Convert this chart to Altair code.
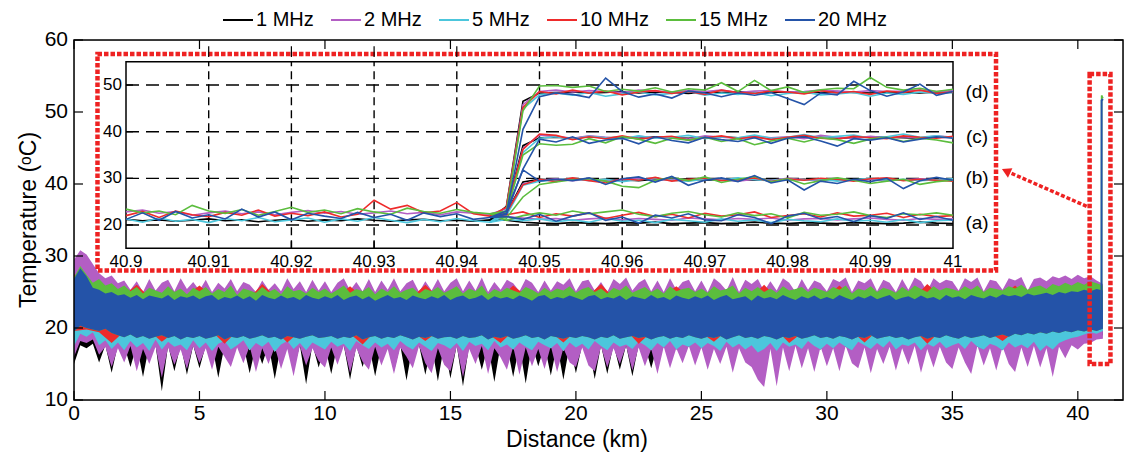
import altair as alt
import numpy as np
import pandas as pd

SERIES = ["1 MHz", "2 MHz", "5 MHz", "10 MHz", "15 MHz", "20 MHz"]
COLORS = ["#000000", "#b35ec4", "#4cc6dc", "#ee2b2b", "#5bbd3d", "#2453a8"]

# ---------------- main trace: noisy envelopes sampled every 0.25 km (0 .. 41 km) ----------------
K_LO = [15.0, 17.6, 17.2, 17.8, 15.2, 17.6, 13.8, 17.7, 17.6, 14.6,
        17.6, 13.2, 17.7, 17.6, 11.2, 17.6, 14.0, 17.7, 13.5, 17.6,
        14.4, 17.6, 17.7, 13.1, 17.6, 14.9, 17.7, 17.6, 13.7, 17.6,
        15.0, 17.7, 12.9, 17.6, 17.7, 14.2, 17.6, 12.2, 17.7, 14.5,
        17.6, 13.6, 17.7, 17.6, 12.8, 17.6, 14.6, 17.7, 13.3, 17.6,
        17.7, 14.0, 17.6, 12.7, 17.7, 17.6, 13.5, 17.6, 12.6, 17.7,
        13.0, 17.6, 11.9, 17.7, 17.6, 14.2, 17.6, 12.5, 17.7, 17.6,
        13.2, 17.6, 12.3, 17.7, 14.7, 17.6, 13.4, 17.7, 12.8, 17.6,
        13.7, 17.7, 17.6, 12.9, 17.6, 13.6, 17.7, 14.2, 17.6, 13.3,
        17.7, 17.6, 14.4, 17.6, 17.7, 15.3, 17.6, 17.7, 17.6, 17.7,
        17.6, 17.7, 17.6, 17.7, 17.6, 17.7, 17.6, 17.7, 17.6, 17.7,
        17.6, 17.7, 17.6, 17.7, 17.6, 17.7, 17.6, 17.7, 17.6, 17.7,
        17.6, 17.7, 17.6, 17.7, 17.6, 17.7, 17.6, 17.7, 17.6, 17.7,
        17.6, 17.7, 17.6, 17.7, 17.6, 17.7, 17.6, 17.7, 17.6, 17.7,
        17.6, 17.7, 17.6, 17.7, 17.6, 17.7, 17.6, 17.7, 17.6, 17.7,
        17.6, 17.7, 17.6, 17.7, 17.6, 17.7, 17.6, 17.7, 17.8, 17.9,
        18.0, 18.2, 18.4, 18.6, 19.0]
P_LO = [16.0, 18.2, 17.9, 18.4, 16.3, 17.4, 14.6, 17.2, 15.2, 17.5,
        14.0, 17.1, 15.0, 17.4, 13.1, 17.3, 14.9, 17.0, 14.3, 17.5,
        15.1, 17.2, 14.2, 17.4, 16.0, 14.6, 17.3, 15.1, 17.5, 13.9,
        17.2, 15.0, 17.4, 14.3, 17.1, 13.3, 17.5, 14.8, 17.2, 15.4,
        14.5, 17.3, 14.9, 17.5, 13.8, 17.2, 15.3, 14.2, 17.4, 14.8,
        17.1, 13.6, 17.3, 16.0, 14.4, 17.5, 15.1, 13.7, 17.2, 14.9,
        14.0, 17.4, 13.2, 17.1, 15.0, 17.5, 13.6, 17.2, 15.9, 14.2,
        17.4, 13.5, 17.3, 14.7, 17.1, 14.3, 17.5, 13.9, 17.2, 15.2,
        14.6, 17.3, 14.8, 14.0, 17.4, 14.5, 17.2, 15.0, 17.5, 14.1,
        17.3, 14.7, 17.1, 13.6, 17.4, 14.4, 17.2, 15.1, 17.5, 14.8,
        17.3, 14.2, 17.1, 15.0, 17.4, 13.8, 17.2, 15.2, 14.6, 12.8,
        11.8, 17.1, 11.9, 17.3, 14.0, 17.5, 14.4, 17.2, 13.9, 17.4,
        14.7, 17.2, 14.0, 17.5, 15.1, 14.4, 17.3, 13.7, 17.1, 15.0,
        17.4, 14.1, 17.2, 14.9, 17.5, 13.8, 17.1, 14.5, 17.4, 15.2,
        14.3, 17.3, 15.2, 13.6, 17.5, 14.8, 17.2, 14.1, 17.4, 15.0,
        13.9, 17.3, 14.6, 17.5, 14.5, 17.2, 13.2, 17.4, 15.8, 17.6,
        17.0, 17.8, 17.9, 18.4, 18.5]
P_HI = [29.5, 30.8, 30.2, 28.9, 27.6, 26.9, 27.3, 26.2, 26.6, 25.3,
        26.5, 25.0, 26.8, 25.2, 26.3, 26.7, 25.1, 26.9, 25.4, 26.4,
        25.2, 26.7, 25.0, 26.3, 25.5, 26.8, 25.1, 26.4, 26.0, 25.0,
        26.6, 25.3, 26.2, 25.1, 26.9, 25.4, 26.5, 25.0, 26.7, 25.2,
        26.5, 25.0, 26.3, 26.9, 25.2, 26.4, 25.1, 26.8, 25.0, 26.6,
        25.3, 26.9, 25.1, 26.2, 26.7, 25.0, 26.5, 25.2, 26.8, 25.1,
        26.3, 26.9, 25.1, 26.6, 25.2, 27.0, 25.0, 26.4, 25.3, 26.7,
        26.2, 25.1, 26.8, 26.3, 25.0, 26.6, 25.2, 26.5, 26.0, 26.9,
        25.1, 26.5, 26.7, 25.2, 26.4, 25.0, 26.8, 26.1, 27.0, 25.2,
        26.3, 26.8, 25.1, 26.6, 25.0, 26.9, 25.3, 26.4, 26.7, 25.1,
        26.6, 25.0, 26.9, 26.2, 25.2, 27.1, 25.0, 26.7, 26.1, 26.8,
        25.1, 26.5, 25.2, 26.9, 26.3, 25.0, 26.8, 25.3, 26.6, 26.2,
        25.1, 26.8, 26.4, 27.0, 25.0, 26.6, 26.2, 26.9, 25.1, 26.7,
        26.3, 25.0, 26.8, 25.3, 27.0, 26.5, 25.1, 26.9, 26.2, 26.7,
        26.5, 25.2, 26.9, 26.4, 27.0, 25.1, 26.7, 26.5, 25.3, 26.9,
        26.6, 27.1, 25.2, 26.8, 27.0, 26.5, 27.2, 26.9, 27.3, 26.8,
        27.4, 26.9, 27.2, 26.6, 26.1]
C_LO = [17.5, 19.2, 18.8, 19.4, 17.6, 18.3, 17.1, 18.0, 16.9, 18.2,
        17.3, 17.9, 16.8, 18.4, 17.0, 18.1, 17.4, 17.7, 16.9, 18.3,
        17.2, 18.0, 16.8, 17.8, 18.2, 17.0, 17.6, 18.3, 16.9, 17.9,
        17.4, 18.1, 16.7, 17.7, 18.2, 17.1, 17.9, 16.9, 18.0, 17.5,
        17.0, 18.1, 17.4, 17.8, 16.8, 18.2, 17.6, 17.1, 18.0, 17.3,
        17.8, 16.9, 18.2, 17.5, 17.0, 18.0, 17.4, 16.8, 17.9, 17.6,
        17.1, 17.9, 16.8, 18.1, 17.5, 17.8, 16.9, 18.2, 17.3, 17.7,
        17.0, 18.0, 17.4, 16.9, 18.1, 17.6, 17.2, 17.9, 16.8, 18.0,
        17.3, 17.8, 17.0, 18.2, 17.5, 16.9, 18.0, 17.4, 17.7, 17.1,
        18.1, 17.6, 16.9, 17.9, 17.3, 18.2, 17.0, 17.7, 17.4, 18.0,
        17.2, 17.9, 17.5, 16.8, 18.1, 17.3, 17.8, 17.0, 17.6, 16.6,
        17.1, 17.9, 16.8, 18.0, 17.4, 17.7, 17.1, 18.2, 17.5, 17.0,
        17.8, 17.2, 18.0, 17.4, 16.9, 18.1, 17.6, 17.1, 17.9, 17.3,
        18.2, 17.0, 17.7, 17.5, 18.0, 16.9, 17.8, 17.4, 18.1, 17.2,
        17.6, 17.9, 17.1, 18.2, 17.4, 17.0, 17.8, 17.5, 16.9, 18.0,
        17.3, 17.7, 17.2, 18.1, 16.8, 17.6, 17.0, 17.9, 18.3, 18.6,
        18.8, 19.1, 19.4, 19.2, 19.6]
G_HI = [27.0, 28.6, 27.4, 26.3, 26.8, 25.9, 26.2, 25.4, 25.9, 25.1,
        25.7, 24.8, 25.6, 25.2, 24.9, 25.8, 25.0, 25.5, 24.7, 25.6,
        25.1, 25.7, 24.8, 25.4, 25.0, 25.9, 24.6, 25.5, 25.2, 24.9,
        25.7, 25.0, 25.4, 24.7, 25.8, 25.1, 25.3, 24.8, 25.6, 25.0,
        25.5, 24.8, 25.3, 25.9, 24.9, 25.4, 25.1, 25.7, 24.7, 25.5,
        25.0, 25.8, 24.9, 25.3, 25.6, 24.8, 25.4, 25.1, 25.7, 24.9,
        25.3, 25.8, 24.8, 25.5, 25.1, 25.9, 24.7, 25.4, 25.0, 25.6,
        25.2, 24.9, 25.7, 25.3, 24.8, 25.6, 25.0, 25.5, 25.2, 25.8,
        24.9, 25.4, 25.7, 25.0, 25.5, 24.8, 25.6, 25.2, 25.9, 24.9,
        25.3, 25.7, 25.0, 25.5, 24.8, 25.8, 25.1, 25.4, 25.6, 25.0,
        25.5, 24.9, 25.8, 25.2, 25.4, 25.9, 24.8, 25.6, 25.1, 25.7,
        25.0, 25.5, 24.9, 25.8, 25.2, 25.4, 25.7, 25.0, 25.6, 25.3,
        25.0, 25.7, 25.3, 25.9, 24.8, 25.5, 25.2, 25.8, 25.0, 25.6,
        25.3, 24.9, 25.7, 25.1, 25.9, 25.4, 25.0, 25.8, 25.2, 25.6,
        25.4, 25.1, 25.8, 25.3, 25.9, 25.0, 25.6, 25.4, 25.2, 25.8,
        25.5, 26.0, 25.3, 25.7, 25.9, 25.4, 26.1, 25.8, 26.3, 25.9,
        26.4, 26.0, 26.5, 26.2, 25.9]
B_HI = [26.8, 28.3, 27.2, 25.6, 25.3, 24.8, 25.0, 24.5, 24.7, 24.2,
        24.6, 24.0, 24.5, 24.3, 24.1, 24.6, 23.9, 24.4, 24.2, 24.5,
        24.0, 24.4, 24.6, 23.9, 24.3, 24.1, 24.5, 24.0, 24.4, 23.8,
        24.6, 24.2, 24.0, 24.5, 24.1, 24.3, 23.9, 24.6, 24.2, 24.0,
        24.4, 24.1, 24.6, 23.9, 24.3, 24.5, 24.0, 24.4, 23.8, 24.2,
        24.6, 24.1, 24.3, 23.9, 24.5, 24.2, 24.0, 24.4, 24.1, 24.6,
        23.9, 24.3, 24.5, 24.0, 24.2, 24.6, 23.9, 24.4, 24.1, 24.3,
        24.0, 24.5, 24.2, 23.8, 24.4, 24.6, 24.0, 24.3, 24.1, 24.5,
        24.2, 23.9, 24.4, 24.6, 24.0, 24.3, 24.1, 24.5, 23.9, 24.4,
        24.2, 24.0, 24.6, 24.1, 24.3, 23.9, 24.5, 24.2, 24.0, 24.4,
        24.1, 24.5, 23.9, 24.3, 24.6, 24.0, 24.2, 24.4, 23.8, 24.5,
        24.1, 24.3, 24.0, 24.6, 24.2, 23.9, 24.4, 24.1, 24.5, 24.0,
        24.3, 24.0, 24.6, 24.2, 23.9, 24.4, 24.1, 24.5, 24.0, 24.3,
        24.6, 23.9, 24.2, 24.4, 24.0, 24.5, 24.1, 24.3, 23.9, 24.6,
        24.2, 24.4, 24.0, 24.6, 24.3, 24.1, 24.5, 24.2, 24.7, 24.4,
        24.6, 24.3, 24.8, 24.5, 24.7, 24.9, 24.6, 25.0, 24.8, 25.1,
        25.0, 25.3, 25.1, 25.4, 25.2]
B_LO = [19.5, 20.3, 20.0, 19.8, 19.6, 19.9, 19.3, 19.0, 18.7, 19.1,
        18.6, 18.9, 18.5, 18.8, 19.0, 18.6, 18.9, 18.4, 18.8, 18.6,
        18.9, 18.5, 18.7, 19.0, 18.4, 18.8, 18.6, 18.9, 18.5, 18.7,
        19.0, 18.6, 18.8, 18.4, 18.9, 18.7, 18.5, 18.8, 19.0, 18.6,
        18.7, 18.9, 18.5, 18.8, 18.6, 19.0, 18.4, 18.7, 18.9, 18.5,
        18.8, 18.6, 19.0, 18.7, 18.4, 18.8, 18.6, 18.9, 18.5, 18.7,
        18.8, 18.5, 18.9, 18.6, 18.7, 19.0, 18.4, 18.8, 18.6, 18.9,
        18.5, 18.7, 19.0, 18.6, 18.8, 18.4, 18.9, 18.7, 18.5, 18.8,
        18.6, 18.9, 18.7, 18.4, 18.8, 18.6, 19.0, 18.5, 18.7, 18.9,
        18.6, 18.8, 18.4, 18.7, 18.9, 18.5, 18.8, 18.6, 19.0, 18.7,
        18.5, 18.8, 18.6, 18.9, 18.4, 18.7, 19.0, 18.6, 18.8, 18.5,
        18.9, 18.7, 18.4, 18.8, 18.6, 18.9, 18.5, 18.7, 19.0, 18.6,
        18.8, 18.5, 18.9, 18.7, 18.4, 18.8, 18.6, 19.0, 18.5, 18.7,
        18.9, 18.6, 18.8, 18.4, 18.7, 18.9, 18.5, 18.8, 18.6, 19.0,
        18.7, 18.5, 18.9, 18.6, 18.8, 19.0, 18.6, 18.9, 19.1, 18.8,
        19.2, 19.0, 19.3, 19.1, 19.4, 19.2, 19.5, 19.3, 19.6, 19.4,
        19.7, 19.5, 19.8, 19.6, 19.9]
# red (10 MHz) envelope sampled every 0.5 km
R_LO = [19.6, 19.8, 19.4, 17.9, 19.5, 19.3, 19.6, 18.1, 19.4, 19.7,
        19.3, 19.5, 17.8, 19.6, 19.4, 19.2, 19.7, 18.0, 19.5, 19.3,
        19.6, 19.4, 19.2, 17.7, 19.5, 19.3, 19.6, 19.4, 18.2, 19.5,
        19.3, 19.7, 19.4, 19.2, 17.9, 19.6, 19.3, 19.5, 19.4, 18.0,
        19.6, 19.2, 19.5, 19.3, 19.7, 17.8, 19.4, 19.6, 19.2, 19.5,
        19.3, 18.1, 19.6, 19.4, 19.2, 19.5, 19.7, 17.9, 19.3, 19.6,
        19.4, 19.2, 19.5, 18.0, 19.6, 19.3, 19.4, 19.7, 17.8, 19.5,
        19.2, 19.6, 19.4, 19.3, 18.2, 19.5, 19.7, 19.4, 19.6, 19.8,
        20.0, 20.1, 20.2]
R_HI = [27.5, 26.0, 25.2, 24.4, 24.6, 26.0, 24.3, 24.5, 24.2, 24.6,
        25.9, 24.4, 24.3, 24.5, 24.2, 26.1, 24.4, 24.6, 24.3, 24.5,
        24.2, 24.4, 25.8, 24.3, 24.5, 24.6, 24.2, 24.4, 26.0, 24.3,
        24.5, 24.2, 24.6, 24.4, 24.3, 25.9, 24.5, 24.2, 24.4, 24.6,
        24.3, 24.5, 26.1, 24.2, 24.4, 24.6, 24.3, 24.5, 25.8, 24.4,
        24.2, 24.6, 24.3, 24.5, 24.4, 26.0, 24.2, 24.5, 24.3, 24.6,
        24.4, 25.9, 24.3, 24.5, 24.2, 24.6, 24.4, 24.3, 26.1, 24.5,
        24.2, 24.4, 24.6, 24.3, 24.5, 25.9, 24.4, 24.7, 24.9, 25.2,
        25.5, 25.8, 25.4]
# heated section at the fibre end (main view)
STEP_X = [40.944, 40.948, 41.0]
STEP_15 = [22.5, 52.3, 51.9]
STEP_20 = [21.0, 51.6, 51.8]

# ---------------- inset: 40.9 .. 41 km, every 2 m ----------------
PRE_01 = [21.2, 20.9, 21.1, 20.8, 21.0, 21.3, 20.9, 21.1, 20.7, 21.0,
          21.2, 20.8, 21.1, 20.9, 21.3, 21.0, 20.8, 21.1, 21.2, 20.9, 21.0, 20.8, 21.1]
PRE_02 = [22.8, 23.2, 22.5, 22.9, 22.1, 22.6, 23.0, 22.4, 22.8, 22.2,
          22.7, 23.1, 22.5, 22.9, 22.3, 22.6, 23.0, 22.4, 22.7, 22.2, 22.8, 22.5, 22.3]
PRE_05 = [21.3, 20.6, 21.5, 20.8, 21.2, 20.5, 21.4, 20.9, 21.6, 20.7,
          21.1, 21.5, 20.6, 21.3, 20.8, 21.6, 21.0, 20.5, 21.2, 20.7, 21.4, 20.9, 20.6]
PRE_10 = [22.0, 22.9, 21.6, 23.0, 22.2, 21.8, 22.7, 22.1, 23.2, 21.9,
          22.5, 22.0, 22.8, 21.7, 22.3, 25.3, 23.4, 24.2, 22.6, 23.0, 24.8, 22.4, 21.9]
PRE_15 = [23.4, 22.6, 23.0, 22.2, 24.2, 23.0, 22.5, 23.3, 22.1, 22.9,
          23.8, 22.7, 23.2, 22.4, 23.5, 22.8, 22.3, 23.6, 22.9, 22.5, 23.3, 22.7, 22.4]
PRE_20 = [21.2, 22.6, 21.0, 22.9, 21.5, 22.2, 21.3, 23.4, 21.7, 22.8,
          21.1, 22.5, 21.9, 21.4, 22.7, 21.6, 22.3, 21.0, 22.6, 21.8, 22.4, 21.2, 21.6]

D_01 = [24.0, 46.5, 48.3, 48.4, 48.5, 48.3, 48.4, 48.6, 48.3, 48.5, 48.4, 48.2, 48.5, 48.4,
        48.6, 48.3, 48.4, 48.5, 48.3, 48.4, 48.6, 48.4, 48.3, 48.5, 48.4, 48.3, 48.5, 48.4]
D_02 = [23.5, 45.8, 48.6, 48.9, 48.5, 48.8, 48.6, 48.4, 48.9, 48.7, 48.5, 48.8, 48.6, 48.9,
        48.4, 48.7, 48.8, 48.5, 48.6, 48.9, 48.7, 48.5, 48.8, 48.6, 48.7, 48.9, 48.6, 48.8]
D_05 = [23.2, 44.9, 47.9, 48.3, 47.8, 48.4, 47.6, 48.1, 48.5, 47.9, 48.2, 48.6, 47.8, 48.3,
        48.0, 48.4, 47.7, 48.2, 48.5, 47.9, 48.1, 48.4, 47.6, 48.3, 48.0, 48.5, 48.2, 48.4]
D_10 = [23.8, 45.2, 48.6, 48.1, 48.9, 48.3, 48.7, 47.9, 48.5, 48.8, 48.2, 48.6, 48.0, 48.9,
        48.4, 48.2, 48.7, 48.5, 48.1, 48.8, 48.3, 48.6, 48.0, 48.7, 48.4, 48.9, 48.2, 48.5]
D_15 = [23.0, 44.5, 49.8, 49.9, 49.5, 49.8, 48.6, 49.1, 48.7, 49.4, 48.5, 49.2, 48.9, 50.5,
        48.6, 51.0, 48.8, 49.6, 48.4, 49.0, 49.3, 49.2, 51.6, 49.5, 48.9, 49.3, 48.6, 49.1]
D_20 = [22.5, 40.5, 47.5, 48.3, 48.0, 47.3, 51.5, 48.6, 47.4, 48.1, 47.2, 48.7, 48.3, 47.5,
        48.3, 47.8, 48.4, 47.1, 45.8, 48.3, 47.9, 50.8, 48.8, 47.6, 48.5, 50.2, 47.8, 48.6]
C_01 = [23.0, 37.0, 38.7, 38.8, 38.6, 38.9, 38.7, 38.8, 38.6, 38.9, 38.7, 38.6, 38.8, 38.9,
        38.7, 38.8, 38.6, 38.7, 38.9, 38.8, 38.6, 38.7, 38.9, 38.8, 38.7, 38.6, 38.8, 38.9]
C_02 = [22.8, 36.4, 39.3, 39.0, 38.6, 39.1, 38.8, 38.5, 39.0, 38.7, 38.9, 38.4, 39.1, 38.8,
        38.6, 39.0, 38.7, 38.9, 38.5, 39.2, 38.8, 38.6, 39.0, 38.7, 38.9, 38.6, 39.1, 38.8]
C_05 = [22.6, 35.5, 38.6, 38.9, 38.4, 39.0, 38.7, 38.5, 39.1, 38.6, 38.8, 39.2, 38.5, 38.9,
        38.7, 39.3, 38.6, 38.8, 39.4, 38.7, 39.0, 39.3, 38.6, 38.9, 39.5, 38.8, 39.1, 38.7]
C_10 = [22.9, 36.2, 39.5, 39.2, 38.3, 38.9, 38.5, 39.1, 38.4, 38.8, 39.0, 38.2, 38.7, 39.1,
        38.5, 38.9, 38.3, 38.8, 39.2, 38.6, 38.4, 39.0, 38.7, 38.5, 39.1, 38.8, 38.6, 39.0]
C_15 = [22.7, 35.0, 37.4, 37.1, 37.3, 38.5, 37.6, 38.9, 38.4, 37.5, 38.6, 38.2, 38.8, 37.9,
        38.5, 37.2, 38.0, 38.6, 37.8, 38.7, 38.3, 37.5, 38.4, 38.8, 37.9, 38.6, 38.2, 37.6]
C_20 = [22.3, 32.0, 38.4, 37.8, 38.9, 37.5, 38.2, 38.6, 37.4, 38.9, 38.1, 37.6, 38.8, 38.3,
        37.9, 38.7, 37.5, 38.6, 38.9, 38.0, 36.9, 38.5, 38.2, 38.7, 37.8, 38.4, 38.9, 38.6]
B_01 = [22.5, 29.2, 29.8, 29.7, 29.9, 29.6, 29.8, 29.7, 29.5, 29.8, 29.7, 29.9, 29.6, 29.7,
        29.8, 29.6, 29.9, 29.7, 29.8, 29.6, 29.7, 29.9, 29.8, 29.6, 29.7, 29.8, 29.7, 29.9]
B_02 = [22.4, 28.8, 29.6, 29.9, 29.5, 29.8, 29.4, 29.7, 30.0, 29.6, 29.8, 29.5, 29.9, 29.7,
        29.4, 29.8, 29.6, 30.0, 29.7, 29.5, 29.9, 29.6, 29.8, 29.5, 29.7, 29.9, 29.6, 29.8]
B_05 = [22.0, 28.5, 29.4, 29.7, 29.9, 29.5, 29.8, 29.3, 29.7, 30.0, 29.6, 29.4, 29.8, 29.6,
        30.1, 29.7, 29.5, 29.9, 29.6, 29.8, 29.4, 29.7, 30.0, 29.6, 29.8, 29.5, 29.7, 29.9]
B_10 = [22.6, 28.6, 29.8, 29.3, 30.1, 29.5, 29.0, 29.9, 29.6, 30.2, 29.4, 29.8, 30.0, 29.5,
        29.7, 30.1, 29.3, 29.9, 29.6, 30.0, 29.8, 29.4, 29.9, 30.1, 29.5, 29.8, 29.6, 29.4]
B_15 = [21.5, 26.0, 28.7, 29.2, 29.7, 29.9, 29.4, 28.3, 28.0, 29.6, 30.2, 29.5, 30.3, 29.1,
        29.8, 30.4, 29.2, 29.9, 28.8, 29.5, 30.1, 29.6, 28.9, 29.4, 29.8, 28.7, 29.3, 29.6]
B_20 = [23.0, 31.8, 29.4, 29.8, 29.5, 30.1, 28.7, 29.9, 30.3, 29.2, 30.4, 28.5, 29.6, 30.1,
        29.3, 30.6, 29.0, 29.7, 27.5, 29.4, 28.9, 29.8, 29.3, 30.0, 27.8, 29.5, 30.2, 29.6]
A_01 = [21.0, 20.6, 20.4, 20.3, 20.5, 20.4, 20.3, 20.5, 20.4, 20.6, 20.3, 20.4, 20.5, 20.3,
        20.4, 20.6, 20.4, 20.3, 20.5, 20.4, 20.3, 20.5, 20.4, 20.3, 20.4, 20.6, 20.4, 20.3]
A_02 = [21.8, 21.5, 21.2, 21.4, 21.0, 21.3, 21.5, 21.1, 21.4, 21.2, 21.0, 21.5, 21.3, 21.1,
        21.4, 21.2, 21.5, 21.0, 21.3, 21.4, 21.1, 21.3, 21.5, 21.2, 21.0, 21.4, 21.2, 21.3]
A_05 = [21.2, 20.9, 21.3, 20.7, 21.1, 20.6, 21.4, 20.8, 21.0, 20.5, 21.2, 20.9, 20.6, 21.3,
        20.8, 21.1, 20.5, 21.2, 20.9, 20.7, 21.3, 20.8, 21.0, 20.6, 21.2, 20.5, 20.9, 21.1]
A_10 = [22.2, 22.8, 21.6, 22.4, 21.9, 22.6, 21.4, 22.1, 22.7, 21.8, 22.3, 21.5, 22.5, 21.9,
        22.2, 22.8, 21.6, 22.0, 22.4, 21.7, 22.6, 21.9, 22.1, 22.5, 21.6, 22.3, 21.8, 22.0]
A_15 = [21.0, 22.0, 22.6, 22.1, 23.0, 22.4, 22.8, 23.2, 22.3, 21.8, 22.5, 22.9, 22.2, 21.7,
        22.6, 22.0, 22.4, 21.5, 22.7, 22.1, 22.3, 22.8, 22.0, 21.6, 22.4, 22.2, 22.6, 22.1]
A_20 = [21.8, 21.2, 22.3, 20.8, 21.9, 22.6, 21.0, 21.7, 20.4, 22.1, 21.5, 22.4, 21.1, 20.9,
        22.2, 21.6, 20.3, 21.9, 22.5, 21.3, 21.8, 20.7, 22.0, 21.4, 22.6, 21.2, 21.8, 21.0]

CASE_LABELS = ["(a)", "(b)", "(c)", "(d)"]
CASE_LABEL_Y = [20.4, 30.1, 38.9, 48.5]

MAIN_X_TICKS = [0, 5, 10, 15, 20, 25, 30, 35, 40]
MAIN_Y_TICKS = [10, 20, 30, 40, 50, 60]
INSET_X_TICKS = [40.9, 40.91, 40.92, 40.93, 40.94, 40.95, 40.96, 40.97, 40.98, 40.99, 41.0]
INSET_Y_TICKS = [20, 30, 40, 50]
X_TITLE = "Distance (km)"
Y_TITLE = "Temperature (ᵒC)"

# annotation geometry in main-plot data units
BIG_BOX = {"x0": 0.936, "x1": 36.74, "y0": 27.99, "y1": 58.06}
SMALL_BOX = {"x0": 40.47, "x1": 41.30, "y0": 15.0, "y1": 55.28}
ARROW = {"x0": 37.14, "y0": 41.81, "x1": 40.41, "y1": 36.81}
# stray top tick marks of the inset (inset y units, above its frame)
INSET_TOP_TICK = {"lo": 56.0, "hi": 58.3}

# ---------------- chart ----------------
W, H = 1049, 360
FONT = "Liberation Sans"
RED = "#ee2222"

XM = alt.Scale(domain=[0, 41.8], nice=False, zero=False)
YM = alt.Scale(domain=[10, 60], nice=False, zero=False)
XI = alt.Scale(domain=[40.9, 41.0], range=[52, 879], nice=False, zero=False)
YI = alt.Scale(domain=[15, 55], range=[208.3, 21.7], nice=False, zero=False)

xf = np.round(np.arange(len(K_LO)) * 0.25, 3)
xc = np.round(np.arange(len(R_LO)) * 0.5, 3)


def band(xs, lo, hi, color):
    df = pd.DataFrame({"d": xs, "lo": lo, "hi": hi})
    return alt.Chart(df).mark_area(color=color, interpolate="linear").encode(
        x=alt.X("d:Q", scale=XM, axis=None),
        y=alt.Y("lo:Q", scale=YM, axis=None),
        y2="hi:Q")


bands = [
    band(xf, K_LO, C_LO, COLORS[0]),
    band(xf, P_LO, P_HI, COLORS[1]),
    band(xf, C_LO, B_HI, COLORS[2]),
    band(xc, R_LO, R_HI, COLORS[3]),
    band(xf, B_LO, G_HI, COLORS[4]),
    band(xf, B_LO, B_HI, COLORS[5]),
]

step_df = pd.DataFrame({"d": STEP_X * 2, "t": STEP_15 + STEP_20,
                        "s": ["15"] * 3 + ["20"] * 3})
step_lines = []
for key, col, sw in (("15", COLORS[4], 1.6), ("20", COLORS[5], 2.0)):
    step_lines.append(
        alt.Chart(step_df[step_df.s == key]).mark_line(color=col, strokeWidth=sw).encode(
            x=alt.X("d:Q", scale=XM, axis=None), y=alt.Y("t:Q", scale=YM, axis=None)))

xt = pd.DataFrame({"v": MAIN_X_TICKS, "lo": 10, "hi": 60})
yt = pd.DataFrame({"v": MAIN_Y_TICKS, "l": 0.0, "r": 41.8})
tick_b = alt.Chart(xt).mark_rule(color="black", strokeWidth=1.2, y2Offset=-9).encode(
    x=alt.X("v:Q", scale=XM, axis=None), y=alt.Y("lo:Q", scale=YM, axis=None), y2="lo:Q")
tick_t = alt.Chart(xt).mark_rule(color="black", strokeWidth=1.2, y2Offset=9).encode(
    x=alt.X("v:Q", scale=XM, axis=None), y=alt.Y("hi:Q", scale=YM, axis=None), y2="hi:Q")
tick_l = alt.Chart(yt).mark_rule(color="black", strokeWidth=1.2, x2Offset=9).encode(
    y=alt.Y("v:Q", scale=YM, axis=None), x=alt.X("l:Q", scale=XM, axis=None), x2="l:Q")
tick_r = alt.Chart(yt).mark_rule(color="black", strokeWidth=1.2, x2Offset=-9).encode(
    y=alt.Y("v:Q", scale=YM, axis=None), x=alt.X("r:Q", scale=XM, axis=None), x2="r:Q")

# tick labels through the main scales
xlab = alt.Chart(xt).mark_text(font=FONT, fontSize=21, color="black", baseline="top",
                               align="center", dy=3).encode(
    x=alt.X("v:Q", scale=XM, axis=None), y=alt.Y("lo:Q", scale=YM, axis=None),
    text=alt.Text("v:Q", format="d"))
ylab = alt.Chart(yt).mark_text(font=FONT, fontSize=21, color="black", baseline="middle",
                               align="right", dx=-6).encode(
    y=alt.Y("v:Q", scale=YM, axis=None), x=alt.X("l:Q", scale=XM, axis=None),
    text=alt.Text("v:Q", format="d"))

title_df = pd.DataFrame({"xt": [X_TITLE], "yt": [Y_TITLE]})
xtitle = alt.Chart(title_df).mark_text(font=FONT, fontSize=23, color="black",
                                       baseline="middle", align="center").encode(
    x=alt.value(503), y=alt.value(H + 40), text="xt:N")
ytitle = alt.Chart(title_df).mark_text(font=FONT, fontSize=23, color="black", angle=270,
                                       baseline="middle", align="center").encode(
    x=alt.value(-45), y=alt.value(H / 2), text="yt:N")

frame_df = pd.DataFrame({"x0": [0.0], "x1": [41.8], "y0": [10.0], "y1": [60.0]})
frame = alt.Chart(frame_df).mark_rect(fillOpacity=0, stroke="black", strokeWidth=1.5).encode(
    x=alt.X("x0:Q", scale=XM, axis=None), x2="x1:Q",
    y=alt.Y("y0:Q", scale=YM, axis=None), y2="y1:Q")

box_df = pd.DataFrame([BIG_BOX, SMALL_BOX])
boxes = alt.Chart(box_df).mark_rect(fillOpacity=0, stroke=RED, strokeWidth=4.5,
                                    strokeDash=[4.5, 2]).encode(
    x=alt.X("x0:Q", scale=XM, axis=None), x2="x1:Q",
    y=alt.Y("y0:Q", scale=YM, axis=None), y2="y1:Q")
arrow_df = pd.DataFrame([ARROW])
arrow_line = alt.Chart(arrow_df).mark_rule(color=RED, strokeWidth=3.5, strokeDash=[4, 2]).encode(
    x=alt.X("x0:Q", scale=XM, axis=None), y=alt.Y("y0:Q", scale=YM, axis=None),
    x2="x1:Q", y2="y1:Q")
arrow_head = alt.Chart(arrow_df).mark_point(shape="triangle-left", filled=True, size=110,
                                            angle=25, color=RED, opacity=1).encode(
    x=alt.X("x0:Q", scale=XM, axis=None), y=alt.Y("y0:Q", scale=YM, axis=None))

main = alt.layer(*bands, *step_lines, tick_b, tick_t, tick_l, tick_r, frame,
                 xlab, ylab, boxes, arrow_line, arrow_head)

# ---- inset ----
x_pre = np.round(40.9 + 0.002 * np.arange(len(PRE_01)), 4)
x_post = np.round(40.946 + 0.002 * np.arange(len(D_01)), 4)
PRE = [PRE_01, PRE_02, PRE_05, PRE_10, PRE_15, PRE_20]
POST = {
    "a": [A_01, A_02, A_05, A_10, A_15, A_20],
    "b": [B_01, B_02, B_05, B_10, B_15, B_20],
    "c": [C_01, C_02, C_05, C_10, C_15, C_20],
    "d": [D_01, D_02, D_05, D_10, D_15, D_20],
}
rows = []
for i, s in enumerate(SERIES):
    for case in "abcd":
        post = POST[case][i]
        if case == "a":
            xs = list(x_pre) + list(x_post)
            ys = PRE[i] + post
        else:
            xs = [x_pre[-1]] + list(x_post)
            ys = [PRE[i][-1]] + post
        for k, (xv, yv) in enumerate(zip(xs, ys)):
            rows.append({"series": s, "case": case, "d": float(xv), "t": yv, "k": k})
inset_df = pd.DataFrame(rows)

ibox_df = pd.DataFrame({"x0": [40.9], "x1": [41.0], "y0": [15.0], "y1": [55.0]})
ibox = alt.Chart(ibox_df).mark_rect(fill="white", stroke="black", strokeWidth=1.5).encode(
    x=alt.X("x0:Q", scale=XI, axis=None), x2="x1:Q",
    y=alt.Y("y0:Q", scale=YI, axis=None), y2="y1:Q")

vg_df = pd.DataFrame({"g": INSET_X_TICKS[1:-1], "lo": 15.0, "hi": 55.0,
                      "tlo": INSET_TOP_TICK["lo"], "thi": INSET_TOP_TICK["hi"]})
hg_df = pd.DataFrame({"g": INSET_Y_TICKS, "lo": 40.9, "hi": 41.0})
vgrid = alt.Chart(vg_df).mark_rule(color="black", strokeWidth=1.4, strokeDash=[8, 5]).encode(
    x=alt.X("g:Q", scale=XI, axis=None), y=alt.Y("lo:Q", scale=YI, axis=None), y2="hi:Q")
hgrid = alt.Chart(hg_df).mark_rule(color="black", strokeWidth=1.4, strokeDash=[13, 7]).encode(
    y=alt.Y("g:Q", scale=YI, axis=None), x=alt.X("lo:Q", scale=XI, axis=None), x2="hi:Q")
itick_b = alt.Chart(vg_df).mark_rule(color="black", strokeWidth=1.4, y2Offset=-7).encode(
    x=alt.X("g:Q", scale=XI, axis=None), y=alt.Y("lo:Q", scale=YI, axis=None), y2="lo:Q")
itick_t = alt.Chart(vg_df).mark_rule(color="black", strokeWidth=1.2).encode(
    x=alt.X("g:Q", scale=XI, axis=None), y=alt.Y("tlo:Q", scale=YI, axis=None), y2="thi:Q")
itick_l = alt.Chart(hg_df).mark_rule(color="black", strokeWidth=1.4, x2Offset=7).encode(
    y=alt.Y("g:Q", scale=YI, axis=None), x=alt.X("lo:Q", scale=XI, axis=None), x2="lo:Q")

ixl_df = pd.DataFrame({"g": INSET_X_TICKS, "lo": 15.0})
ixlab = alt.Chart(ixl_df).mark_text(font=FONT, fontSize=17, color="black", baseline="middle",
                                    align="center", dy=14).encode(
    x=alt.X("g:Q", scale=XI, axis=None), y=alt.Y("lo:Q", scale=YI, axis=None),
    text=alt.Text("g:Q", format=".2~f"))
iylab = alt.Chart(hg_df).mark_text(font=FONT, fontSize=17, color="black", baseline="middle",
                                   align="right", dx=-4).encode(
    y=alt.Y("g:Q", scale=YI, axis=None), x=alt.X("lo:Q", scale=XI, axis=None),
    text=alt.Text("g:Q", format="d"))

ilines = alt.Chart(inset_df).mark_line(strokeWidth=1.6).encode(
    x=alt.X("d:Q", scale=XI, axis=None),
    y=alt.Y("t:Q", scale=YI, axis=None),
    color=alt.Color("series:N", scale=alt.Scale(domain=SERIES, range=COLORS),
                    legend=alt.Legend(orient="none", legendX=148, legendY=-36,
                                      direction="horizontal", title=None,
                                      symbolType="stroke", symbolStrokeWidth=2,
                                      symbolSize=900, labelFontSize=20,
                                      labelFont=FONT,
                                      labelColor="black", columnPadding=13, labelOffset=2)),
    detail="case:N",
    order="k:Q")

lab_df = pd.DataFrame({"lab": CASE_LABELS, "ly": CASE_LABEL_Y, "lx": 41.0})
labels = alt.Chart(lab_df).mark_text(dx=24, fontSize=19, font=FONT, color="black",
                                     align="center", baseline="middle").encode(
    x=alt.X("lx:Q", scale=XI, axis=None), y=alt.Y("ly:Q", scale=YI, axis=None), text="lab:N")

inset = alt.layer(itick_t, ibox, vgrid, hgrid, itick_b, itick_l, ilines, labels, ixlab, iylab)

chart = alt.layer(main, inset, xtitle, ytitle).resolve_scale(
    x="independent", y="independent"
).properties(
    width=W, height=H,
    autosize=alt.AutoSizeParams(type="none"),
    padding={"left": 74, "top": 40, "right": 1, "bottom": 55},
).configure_view(strokeWidth=0).configure(background="white")

chart.save("out.html", embed_options={"renderer": "svg", "actions": False})
